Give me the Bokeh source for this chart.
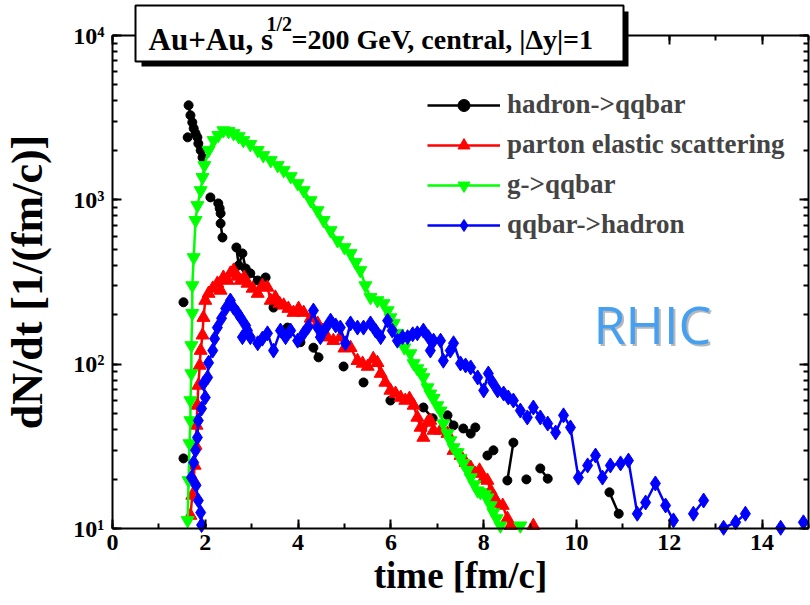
from bokeh.plotting import figure
from bokeh.models import (LogAxis, LinearAxis, SingleIntervalTicker, LogTicker,
                          Legend, LegendItem, Label, BoxAnnotation, Range1d,
                          CustomJSTickFormatter)
from bokeh.embed import file_html
from bokeh.resources import INLINE
import math

nan = float("nan")

# ---------------- data ----------------
black_t = [1.53, nan, 1.53, nan, 1.62, nan,
           1.64, 1.68, 1.72, 1.75, 1.79, 1.83, 1.85, 1.90, 1.94, nan,
           2.11, 2.28, 2.31, 2.33, 2.33, 2.37, nan,
           2.67, 2.72, 2.80, 2.87, 2.97, 3.13, 3.30, nan,
           3.47, nan, 3.77, nan, 4.05, nan, 4.33, 4.44, nan, 4.98, nan,
           5.41, nan, 5.99, nan, 6.70, 6.90, nan, 7.22, 7.35, nan,
           7.56, 7.72, 7.82, nan, 8.08, 8.21, nan, 8.51, 8.64, nan,
           8.92, nan, 9.22, 9.38, nan, 10.71, 10.91]
black_dndt = [26.7, nan, 238, nan, 2400, nan,
              3760, 3270, 2960, 2720, 2535, 2400, 2200, 2000, 1810, nan,
              1035, 951, 887, 827, 718, 590, nan,
              513, 399, 472, 382, 357, 323, 337, nan,
              221, nan, 167, nan, 136, nan, 126, 110, nan, 96.8, nan,
              77.4, nan, 60.1, nan, 54.5, 46.8, nan, 48.8, 42.4, nan,
              40.6, 37.8, 41.2, nan, 27.8, 29.9, nan, 19.6, 33.3, nan,
              19.9, nan, 23.2, 20.1, nan, 16.6, 12.3]

red_t = [1.68, 1.72, 1.75, 1.77, 1.79, 1.81, 1.83, 1.85, 1.88, 1.90,
         1.94, 1.96, 2.00, 2.07, 2.16, 2.26, 2.33, 2.39, 2.48, 2.54,
         2.61, 2.69, 2.76, 2.84, 2.91, 3.02, 3.13, 3.23, 3.34, 3.41,
         3.51, 3.60, 3.69, 3.79, 3.90, 4.01, 4.12, 4.27, 4.42, 4.53,
         4.63, 4.76, 4.91, 5.00, 5.13, 5.28, 5.39, 5.50, 5.62, 5.71,
         5.78, 5.88, 5.99, 6.10, 6.21, 6.31, 6.40, 6.49, 6.57, 6.64,
         6.70, 6.79, 6.85, 6.92, 7.07, 7.22, 7.35, 7.50, 7.61, 7.72,
         7.82, 7.91, 8.00, 8.08, 8.15, 8.23, 8.30, 8.41, 8.51, 8.58,
         nan, 9.07]
red_dndt = [12.0, 15.9, 19.6, 24.2, 32.0, 42.4, 56.1, 74.2, 98.2, 121,
            150, 192, 244, 269, 289, 310, 281, 337, 323, 357,
            372, 342, 323, 337, 310, 289, 269, 301, 293, 244,
            255, 234, 228, 218, 206, 218, 206, 190, 177, 160,
            146, 139, 146, 125, 126, 105, 101, 96.8, 108, 102,
            87.7, 77.4, 69.2, 66.3, 62.7, 60.1, 61.8, 56.1, 47.4, 41.2,
            35.8, 44.2, 45.4, 39.5, 39.5, 37.8, 29.8, 27.8, 25.2, 23.5,
            21.6, 22.6, 20.1, 19.6, 17.0, 15.4, 14.2, 13.8, 11.5, 10.4,
            nan, 10.4]

green_t = [1.62, 1.64, 1.66, 1.68, 1.68, 1.70, 1.70, 1.72, 1.72, 1.75,
           1.79, 1.83, 1.90, 1.94, 1.98, 2.07, 2.18, 2.28, 2.39, 2.50,
           2.61, 2.72, 2.82, 2.97, 3.13, 3.25, 3.41, 3.56, 3.69, 3.84,
           3.99, 4.12, 4.27, 4.42, 4.55, 4.70, 4.85, 5.00, 5.13, 5.24,
           5.34, 5.45, 5.56, 5.71, 5.84, 5.93, 5.99, 6.06, 6.14, 6.21,
           6.29, 6.42, 6.49, 6.57, 6.64, 6.70, 6.79, 6.85, 6.92, 7.00,
           7.07, 7.13, 7.22, 7.28, 7.35, 7.44, 7.50, 7.56, 7.65, 7.72,
           7.80, 7.87, 7.93, 8.02, 8.08, 8.15, 8.21, 8.28, 8.36, nan,
           8.79]
green_dndt = [11.2, 19.6, 32.9, 45.4, 60.1, 87.7, 130, 204, 301, 446,
              750, 925, 1140, 1370, 1620, 2000, 2300, 2470, 2640, 2610,
              2535, 2430, 2300, 2175, 2000, 1863, 1738, 1620, 1510, 1388,
              1258, 1140, 991, 861, 750, 651, 566, 513, 472, 416,
              372, 301, 255, 244, 234, 212, 192, 177, 154, 139,
              126, 116, 101, 94, 89, 83, 72, 66, 62, 56,
              52, 43.5, 37.8, 34.3, 31.1, 29.0, 26.7, 24.9, 22.6, 20.4,
              18.5, 17.0, 16.6, 16.1, 15.4, 13.8, 12.5, 11.5, 10.4, nan,
              10.4]

blue_t = [1.92, 1.90, 1.85, 1.80, 1.70, 1.75, 1.79, 1.83, 1.85, 1.92,
          2.00, 1.96, 2.05, 2.07, 2.16, 2.20, 2.26, 2.35, 2.44, 2.54,
          2.61, 2.69, 2.76, 2.87, 2.91, 2.80, 2.97, 3.13, 3.23, 3.34,
          3.47, 3.62, 3.73, 3.84, 3.99, 4.12, 4.22, 4.33, 4.42, 4.48,
          4.59, 4.70, 4.81, 4.91, 5.02, 5.13, 5.28, 5.41, 5.56, 5.67,
          5.78, 5.93, 6.03, 6.14, 6.25, 6.36, 6.47, 6.57, 6.70, 6.81,
          6.85, 6.92, 7.07, 7.13, 7.28, 7.35, 7.50, 7.61, 7.72, 7.87,
          8.00, 8.10, 8.19, 8.30, 8.43, 8.53, 8.64, 8.79, 8.94, 9.07,
          9.22, 9.38, 9.55, 9.72, 9.87, 10.04, 10.24, 10.41, 10.56, 10.73,
          10.95, 11.12, 11.31, 11.49, 11.70, 11.92, 12.09, nan, 12.52, 12.74,
          nan, 13.17, 13.43, 13.64, nan, 14.40, nan, 14.89]
blue_dndt = [10.5, 12.5, 14.8, 18.3, 20.4, 25.2, 29.9, 35.8, 45.4, 53.7,
             62.7, 76.4, 83.0, 102, 121, 143, 167, 190, 218, 244,
             221, 206, 192, 172, 160, 146, 146, 134, 143, 154,
             121, 160, 146, 160, 139, 154, 169, 212, 167, 146,
             165, 184, 172, 167, 134, 177, 167, 167, 177, 160,
             146, 184, 160, 139, 146, 146, 152, 154, 160, 146,
             121, 139, 139, 105, 121, 134, 101, 98.2, 95.5, 83.0,
             69.2, 87.7, 77.4, 69.2, 66.3, 62.7, 60.1, 52.2, 47.4, 54.5,
             47.4, 43.5, 38.4, 48.8, 41.2, 20.4, 24.2, 27.8, 20.4, 24.2,
             24.9, 25.9, 12.3, 14.4, 18.8, 13.8, 11.2, nan, 12.3, 14.8,
             nan, 10.1, 10.9, 12.3, nan, 10.1, nan, 10.9]

series_names = ["hadron->qqbar", "parton elastic scattering", "g->qqbar", "qqbar->hadron"]
x_ticks_interval = 2
x_min, x_max = 0, 15
y_min, y_max = 10, 10000
y_tick_labels = {10: "10\u00b9", 100: "10\u00b2", 1000: "10\u00b3", 10000: "10\u2074"}
x_label = "time [fm/c]"
y_label = "dN/dt [1/(fm/c)]"
title_parts = ["Au+Au, s", "1/2", "=200 GeV, central, |\u0394y|=1"]
tag = "RHIC"

FONT = "Liberation Serif"
W, H = 810, 605
# plot-area geometry in canvas pixels (left, right, top, bottom)
PL, PR, PT, PB = 112, 808, 35, 528

# ranges chosen so that the data box [x_min,x_max]x[y_min,y_max] sits at the pixel box above
sx = (PR - PL) / (x_max - x_min)
x_start = x_min - PL / sx
x_end = x_max + (W - PR) / sx
ldec = (PB - PT) / (math.log10(y_max) - math.log10(y_min))
y_start = 10 ** (math.log10(y_min) - (H - PB) / ldec)
y_end = 10 ** (math.log10(y_max) + PT / ldec)

p = figure(width=W, height=H, x_range=Range1d(x_start, x_end), y_range=Range1d(y_start, y_end),
           y_axis_type="log", output_backend="svg", toolbar_location=None, title=None,
           min_border=0, min_border_left=0, min_border_right=0, min_border_top=0,
           min_border_bottom=0, x_axis_label=x_label, y_axis_label=y_label)
p.xgrid.visible = False
p.ygrid.visible = False
p.outline_line_color = None
p.background_fill_color = "white"
p.border_fill_color = "white"


def style_axis(ax, labels=True):
    ax.axis_line_width = 2
    ax.major_tick_line_width = 2
    ax.minor_tick_line_width = 2
    ax.major_tick_in = 9
    ax.major_tick_out = 0
    ax.minor_tick_in = 5
    ax.minor_tick_out = 0
    if labels:
        ax.major_label_text_font = FONT
        ax.major_label_text_font_style = "bold"
        ax.major_label_text_font_size = "24px"
        ax.major_label_text_color = "black"
        ax.axis_label_text_font = FONT
        ax.axis_label_text_font_style = "bold"
        ax.axis_label_text_color = "black"
    else:
        ax.formatter = CustomJSTickFormatter(code="return ''")
        ax.major_label_text_font_size = "1px"
        ax.major_label_standoff = 0


xa = p.xaxis[0]
xa.ticker = SingleIntervalTicker(interval=x_ticks_interval, num_minor_ticks=2)
style_axis(xa)
xa.fixed_location = y_min
xa.bounds = (x_min, x_max)
xa.major_label_standoff = 6
xa.axis_label_standoff = 2
xa.axis_label_text_font_size = "37px"

ya = p.yaxis[0]
ya.ticker = LogTicker(num_minor_ticks=10)
style_axis(ya)
ya.fixed_location = x_min
ya.bounds = (y_min, y_max)
ya.major_label_overrides = y_tick_labels
ya.major_label_standoff = 8
ya.axis_label_standoff = 18
ya.axis_label_text_font_size = "44px"

top = LinearAxis(ticker=SingleIntervalTicker(interval=x_ticks_interval, num_minor_ticks=2),
                 fixed_location=y_max, bounds=(x_min, x_max))
style_axis(top, labels=False)
p.add_layout(top, "above")
right = LogAxis(ticker=LogTicker(num_minor_ticks=10), fixed_location=x_max,
                bounds=(y_min, y_max))
style_axis(right, labels=False)
p.add_layout(right, "right")

# ---------------- series ----------------
lk = p.line(black_t, black_dndt, line_color="black", line_width=2.5)
sk = p.scatter(black_t, black_dndt, marker="circle", size=9, color="black")
lr = p.line(red_t, red_dndt, line_color="#ff0000", line_width=2.5)
sr = p.scatter(red_t, red_dndt, marker="triangle", size=13, color="#ff0000")
lg = p.line(green_t, green_dndt, line_color="#00ff00", line_width=2.5)
sg = p.scatter(green_t, green_dndt, marker="inverted_triangle", size=13, color="#00ff00")
lb = p.line(blue_t, blue_dndt, line_color="#0000ff", line_width=2.5)
sb = p.scatter(blue_t, blue_dndt, marker="diamond", size=15, color="#0000ff")

legend = Legend(items=[LegendItem(label=series_names[0], renderers=[lk, sk]),
                       LegendItem(label=series_names[1], renderers=[lr, sr]),
                       LegendItem(label=series_names[2], renderers=[lg, sg]),
                       LegendItem(label=series_names[3], renderers=[lb, sb])],
                location=(427, 365), orientation="vertical",
                glyph_width=73, glyph_height=30, label_height=30, spacing=9,
                padding=0, margin=0, label_standoff=7,
                border_line_color=None, background_fill_alpha=0,
                label_text_font=FONT, label_text_font_style="bold",
                label_text_font_size="27px")
p.add_layout(legend)

# ---------------- title box (shadow + framed box) ----------------
canvas = dict(left_units="canvas", right_units="canvas", top_units="canvas", bottom_units="canvas")
p.add_layout(BoxAnnotation(left=141, right=628, top=11, bottom=66, fill_color="black",
                           fill_alpha=1, line_color=None, **canvas))
p.add_layout(BoxAnnotation(left=135, right=623, top=5, bottom=61, fill_color="white",
                           fill_alpha=1, line_color="black", line_width=2, line_alpha=1,
                           **canvas))

common = dict(x_units="canvas", y_units="canvas", text_font=FONT,
              text_font_style="bold", text_color="black", text_baseline="alphabetic")
p.add_layout(Label(x=148, y=39, text=title_parts[0], text_font_size="31px", **common))
p.add_layout(Label(x=266, y=23, text=title_parts[1], text_font_size="20px", **common))
p.add_layout(Label(x=291, y=39, text=title_parts[2], text_font_size="28px", **common))

# ---------------- RHIC tag ----------------
p.add_layout(Label(x=595, y=325, x_units="canvas", y_units="canvas", text=tag,
                   text_font="Open Sans", text_font_size="52px", text_color="#b8b8b8",
                   text_baseline="alphabetic"))
p.add_layout(Label(x=593, y=323, x_units="canvas", y_units="canvas", text=tag,
                   text_font="Open Sans", text_font_size="52px", text_color="#45a0f2",
                   text_baseline="alphabetic"))

open("out.html", "w").write(file_html(p, INLINE))
